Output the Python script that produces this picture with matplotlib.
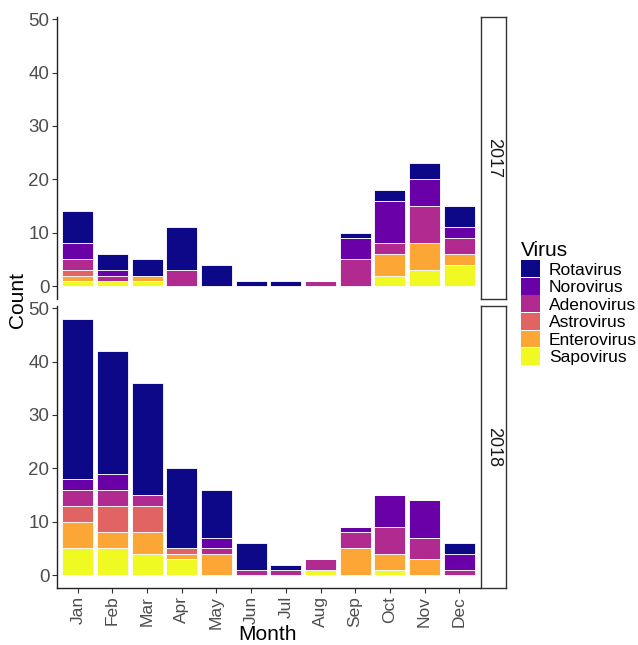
import matplotlib
matplotlib.use('Agg')
import matplotlib.pyplot as plt
from matplotlib.patches import Patch
import numpy as np

plt.rcParams['font.family'] = ['Liberation Sans', 'DejaVu Sans']

months = ["Jan", "Feb", "Mar", "Apr", "May", "Jun", "Jul", "Aug", "Sep", "Oct", "Nov", "Dec"]
years = ["2017", "2018"]
# stacking order, bottom to top
viruses = ["Sapovirus", "Enterovirus", "Astrovirus", "Adenovirus", "Norovirus", "Rotavirus"]
colors = {"Rotavirus": "#0D0887", "Norovirus": "#6A00A8", "Adenovirus": "#B12A90",
          "Astrovirus": "#E16462", "Enterovirus": "#FCA636", "Sapovirus": "#F0F921"}

counts_2017 = {
  "Sapovirus":   [1, 1, 1, 0, 0, 0, 0, 0, 0, 2, 3, 4],
  "Enterovirus": [1, 0, 1, 0, 0, 0, 0, 0, 0, 4, 5, 2],
  "Astrovirus":  [1, 0, 0, 0, 0, 0, 0, 0, 0, 0, 0, 0],
  "Adenovirus":  [2, 1, 0, 3, 0, 0, 0, 1, 5, 2, 7, 3],
  "Norovirus":   [3, 1, 0, 0, 0, 0, 0, 0, 4, 8, 5, 2],
  "Rotavirus":   [6, 3, 3, 8, 4, 1, 1, 0, 1, 2, 3, 4],
}
counts_2018 = {
  "Sapovirus":   [5, 5, 4, 3, 0, 0, 0, 1, 0, 1, 0, 0],
  "Enterovirus": [5, 3, 4, 1, 4, 0, 0, 0, 5, 3, 3, 0],
  "Astrovirus":  [3, 5, 5, 1, 0, 0, 0, 0, 0, 0, 0, 0],
  "Adenovirus":  [3, 3, 2, 0, 1, 1, 1, 2, 3, 5, 4, 1],
  "Norovirus":   [2, 3, 0, 0, 2, 0, 0, 0, 1, 6, 7, 3],
  "Rotavirus":   [30, 23, 21, 15, 9, 5, 1, 0, 0, 0, 0, 2],
}

fig = plt.figure(figsize=(6.38, 6.45), dpi=100)
left, width = 57 / 638, 423 / 638
ph = 282 / 645
ax1 = fig.add_axes([left, 1 - 299 / 645, width, ph])
ax2 = fig.add_axes([left, 1 - 588 / 645, width, ph])

x = np.arange(len(months))
gray = "#4D4D4D"
for ax, data, yr in [(ax1, counts_2017, "2017"), (ax2, counts_2018, "2018")]:
  bottom = np.zeros(len(months))
  for v in viruses:
    vals = np.array(data[v])
    ax.bar(x, vals, 0.9, bottom=bottom, color=colors[v], edgecolor="white", linewidth=0.6)
    bottom += vals
  ax.set_xlim(-0.6, 11.6)
  ax.set_ylim(-2.4, 50.4)
  ax.set_yticks([0, 10, 20, 30, 40, 50])
  ax.tick_params(axis="y", labelsize=13.5, colors="#333333", labelcolor=gray, length=3.5, width=0.8, pad=2)
  for s in ["top", "right", "bottom"]:
    ax.spines[s].set_visible(False)
  ax.spines["left"].set_color("#222222")
  ax.spines["left"].set_linewidth(1.0)
  # facet strip
  bb = ax.get_position()
  sax = fig.add_axes([481 / 638, bb.y0, 25 / 638, bb.height])
  sax.set_xticks([])
  sax.set_yticks([])
  for s in sax.spines.values():
    s.set_linewidth(1.0)
    s.set_color("#333333")
  sax.text(0.5, 0.5, yr, rotation=-90, ha="center", va="center", fontsize=13, color="#1A1A1A",
           transform=sax.transAxes)

ax1.set_xticks([])
ax2.set_xticks(x)
ax2.set_xticklabels(months, rotation=90, fontsize=12.5, color=gray)
ax2.tick_params(axis="x", colors="#333333", labelcolor=gray, length=3.5, width=0.8, pad=2)
ax2.spines["bottom"].set_visible(True)
ax2.spines["bottom"].set_color("#222222")
ax2.spines["bottom"].set_linewidth(1.0)

fig.text(268 / 638, 1 - 635 / 645, "Month", ha="center", va="center", fontsize=15)
fig.text(17 / 638, 1 - 300 / 645, "Count", rotation=90, ha="center", va="center", fontsize=15)

handles = [Patch(facecolor=colors[v], edgecolor="none") for v in viruses[::-1]]
leg = fig.legend(handles, viruses[::-1], title="Virus", loc="upper left",
                 bbox_to_anchor=(514 / 638, 1 - 234 / 645), frameon=False,
                 fontsize=12.5, title_fontsize=15, handlelength=1.1, handleheight=1.1,
                 handletextpad=0.5, labelspacing=0.02, borderaxespad=0)
leg._legend_box.align = "left"

fig.savefig("out.png", dpi=100)
